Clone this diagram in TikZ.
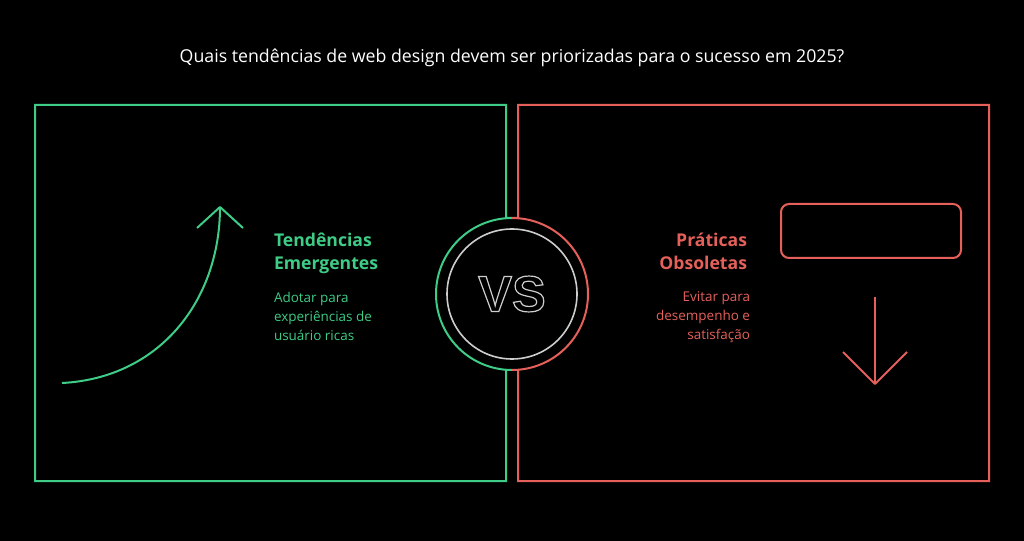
\documentclass[tikz,border=0pt]{standalone}
\usepackage{fontspec}
\setmainfont{Open Sans}
\newfontfamily\vsfont{Liberation Sans}
\usetikzlibrary{positioning}
\definecolor{bgblack}{RGB}{0,0,0}
\definecolor{trendgreen}{RGB}{62,204,134}
\definecolor{oldred}{RGB}{229,96,90}
\definecolor{vsgray}{RGB}{205,205,205}
\newcommand{\outlined}[1]{\special{pdf:literal direct 1 Tr 0.9 w}#1\special{pdf:literal direct 0 Tr}}
\begin{document}
\begin{tikzpicture}[x=0.75pt,y=-0.75pt,line width=1.5pt,
    heading/.style={font=\bfseries\fontsize{13.2}{17}\selectfont,align=left,inner sep=0pt},
    desc/.style={font=\fontsize{10.1}{14.2}\selectfont,align=left,inner sep=0pt}]

    % background
    \fill[bgblack] (0,0) rectangle (1024,541);
    \useasboundingbox (0,0) rectangle (1024,541);

    % title
    \node[white,font=\fontsize{13.3}{15}\selectfont] (title) at (512,58) {Quais tendências de web design devem ser priorizadas para o sucesso em 2025?};

    % boxes joined to the circle
    \draw[trendgreen] (512,218) -- (506,218) -- (506,105) -- (35,105) -- (35,481) -- (506,481) -- (506,370) -- (512,370)
        arc[start angle=90,end angle=270,radius=76];
    \draw[oldred] (512,218) -- (518,218) -- (518,105) -- (989,105) -- (989,481) -- (518,481) -- (518,370) -- (512,370)
        arc[start angle=90,end angle=-90,radius=76];
    \node[draw=vsgray,circle,minimum size=130*0.75pt,inner sep=0pt,line width=1.2pt] (vs) at (512,294) {};
    \node[vsgray,font=\vsfont\bfseries\fontsize{38}{38}\selectfont] at (vs) {\outlined{VS}};

    % left side
    \coordinate (curveA) at (62,383);
    \coordinate (curveB) at (220,207);
    \draw[trendgreen] (curveA) .. controls (160,378) and (220,300) .. (curveB);
    \draw[trendgreen,line join=round] (197,228) -- (curveB) -- (243,228);
    \node[heading,trendgreen,anchor=north west] (trend) at (273,232) {Tendências\\Emergentes};
    \node[desc,trendgreen,anchor=north west] (trenddesc) at (273,291) {Adotar para\\experiências de\\usuário ricas};

    % right side
    \node[heading,oldred,anchor=north east,align=right] (old) at (748,232) {Práticas\\Obsoletas};
    \node[desc,oldred,anchor=north east,align=right] (olddesc) at (751,291) {Evitar para\\desempenho e\\satisfação};
    \draw[oldred,rounded corners=6pt] (781,204) rectangle (961,258);
    \coordinate (downA) at (875,297);
    \coordinate (downB) at (875,384);
    \draw[oldred] (downA) -- (downB);
    \draw[oldred,line join=round] (843,352) -- (downB) -- (907,352);

\end{tikzpicture}
\end{document}
